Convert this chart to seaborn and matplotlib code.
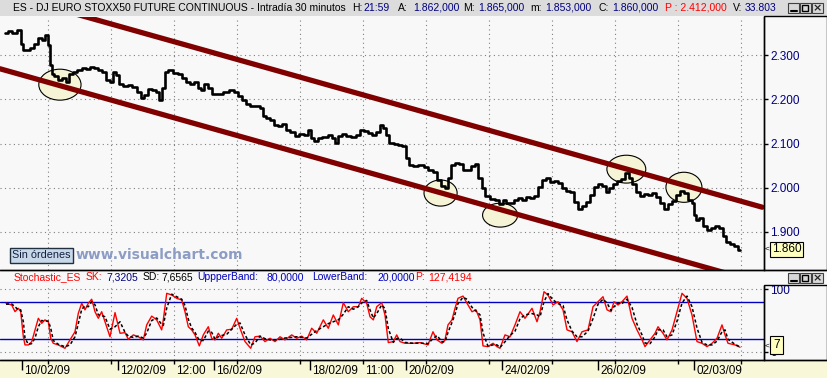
import numpy as np
import pandas as pd
import matplotlib
matplotlib.use("Agg")
import matplotlib.pyplot as plt
from matplotlib.patches import Ellipse, Rectangle
from matplotlib.lines import Line2D
import seaborn as sns

# ---- price (30 min bars, x = trading day, 10/02/09 = 1) ----
price_day = [
    0.646, 0.750, 0.854, 0.958, 1.000, 1.042, 1.125, 1.208, 1.292, 1.375,
    1.458, 1.521, 1.562, 1.604, 1.646, 1.708, 1.792, 1.875, 1.958, 2.021,
    2.104, 2.188, 2.292, 2.375, 2.458, 2.542, 2.625, 2.708, 2.792, 2.854,
    2.917, 2.979, 3.042, 3.146, 3.250, 3.354, 3.458, 3.521, 3.583, 3.667,
    3.750, 3.833, 3.896, 3.958, 4.021, 4.083, 4.188, 4.292, 4.375, 4.458,
    4.542, 4.625, 4.708, 4.771, 4.833, 4.917, 5.000, 5.125, 5.250, 5.375,
    5.458, 5.542, 5.625, 5.708, 5.812, 5.917, 6.000, 6.042, 6.125, 6.208,
    6.292, 6.375, 6.458, 6.521, 6.625, 6.729, 6.833, 6.917, 6.979, 7.042,
    7.125, 7.208, 7.312, 7.417, 7.500, 7.562, 7.625, 7.708, 7.792, 7.896,
    8.000, 8.083, 8.167, 8.250, 8.333, 8.417, 8.479, 8.542, 8.604, 8.688,
    8.792, 8.875, 8.958, 9.021, 9.104, 9.208, 9.312, 9.417, 9.500, 9.604,
    9.688, 9.771, 9.833, 9.896, 9.979, 10.062, 10.146, 10.229, 10.312, 10.396,
    10.458, 10.542, 10.604, 10.688, 10.792, 10.896, 10.979, 11.062, 11.125, 11.208,
    11.292, 11.375, 11.458, 11.542, 11.625, 11.708, 11.792, 11.875, 11.958, 12.042,
    12.125, 12.208, 12.292, 12.375, 12.458, 12.542, 12.625, 12.708, 12.792, 12.875,
    12.958, 13.042, 13.125, 13.188, 13.271, 13.354, 13.438, 13.521, 13.604, 13.667,
    13.750, 13.833, 13.917, 14.000, 14.083, 14.167, 14.250, 14.333, 14.417, 14.500,
    14.583, 14.667, 14.750, 14.833, 14.917, 14.979, 15.000, 15.062, 15.146, 15.229,
    15.312, 15.396, 15.479, 15.562, 15.625, 15.708, 15.792, 15.875, 15.958,
]
price_close = [
    2.350, 2.354, 2.350, 2.357, 2.325, 2.311, 2.311, 2.316, 2.325, 2.338,
    2.334, 2.345, 2.323, 2.277, 2.257, 2.252, 2.243, 2.248, 2.239, 2.257,
    2.262, 2.266, 2.271, 2.268, 2.273, 2.271, 2.266, 2.262, 2.243, 2.239,
    2.262, 2.255, 2.234, 2.230, 2.232, 2.228, 2.216, 2.203, 2.210, 2.223,
    2.221, 2.216, 2.198, 2.225, 2.262, 2.266, 2.260, 2.257, 2.248, 2.239,
    2.234, 2.239, 2.225, 2.221, 2.234, 2.225, 2.212, 2.212, 2.216, 2.221,
    2.216, 2.207, 2.198, 2.189, 2.185, 2.185, 2.180, 2.162, 2.157, 2.153,
    2.142, 2.139, 2.144, 2.130, 2.126, 2.117, 2.121, 2.119, 2.130, 2.112,
    2.105, 2.112, 2.114, 2.119, 2.112, 2.101, 2.117, 2.121, 2.117, 2.114,
    2.119, 2.130, 2.128, 2.123, 2.119, 2.126, 2.142, 2.135, 2.119, 2.101,
    2.098, 2.096, 2.094, 2.067, 2.051, 2.049, 2.051, 2.047, 2.040, 2.035,
    2.017, 2.004, 1.999, 2.022, 2.051, 2.056, 2.053, 2.040, 2.040, 2.049,
    2.053, 2.022, 1.999, 1.981, 1.974, 1.972, 1.963, 1.972, 1.965, 1.965,
    1.972, 1.977, 1.972, 1.979, 1.977, 1.981, 2.001, 2.017, 2.022, 2.013,
    2.015, 2.011, 1.999, 1.992, 1.990, 1.967, 1.953, 1.958, 1.967, 1.983,
    2.001, 2.008, 2.004, 1.990, 1.999, 2.008, 2.015, 2.019, 2.033, 2.022,
    2.008, 1.990, 1.981, 1.986, 1.983, 1.988, 1.979, 1.965, 1.952, 1.963,
    1.970, 1.983, 1.992, 1.988, 1.972, 1.965, 1.938, 1.926, 1.931, 1.913,
    1.904, 1.908, 1.913, 1.908, 1.890, 1.877, 1.872, 1.868, 1.860,
]

# bearish channel drawn on the chart
channel_day = [0.54, 16.42]
channel_upper = [2.441, 1.956]
channel_lower = [2.269, 1.784]

# highlighted touches: centre day, centre price, width (days), height (price)
zone_day = [1.79, 9.72, 10.96, 13.59, 14.79]
zone_price = [2.233, 1.988, 1.938, 2.042, 2.001]
zone_w = [0.88, 0.69, 0.73, 0.81, 0.75]
zone_h = [0.070, 0.059, 0.054, 0.063, 0.068]

# ---- stochastic ----
stoch_day = [
    0.667, 0.785, 0.854, 0.923, 0.973, 1.028, 1.062, 1.131, 1.202, 1.271,
    1.340, 1.410, 1.479, 1.548, 1.598, 1.652, 1.756, 1.896, 2.000, 2.104,
    2.173, 2.244, 2.312, 2.381, 2.452, 2.521, 2.590, 2.660, 2.729, 2.833,
    2.938, 3.042, 3.146, 3.215, 3.319, 3.423, 3.527, 3.598, 3.702, 3.806,
    3.910, 3.944, 4.015, 4.119, 4.223, 4.327, 4.396, 4.465, 4.535, 4.604,
    4.694, 4.777, 4.881, 4.952, 5.021, 5.090, 5.160, 5.265, 5.369, 5.473,
    5.542, 5.646, 5.765, 5.854, 5.958, 6.062, 6.167, 6.271, 6.375, 6.479,
    6.619, 6.723, 6.827, 6.931, 7.035, 7.140, 7.277, 7.381, 7.485, 7.590,
    7.694, 7.798, 7.902, 8.006, 8.077, 8.181, 8.250, 8.319, 8.390, 8.494,
    8.562, 8.631, 8.735, 8.806, 8.875, 8.979, 9.152, 9.292, 9.458, 9.562,
    9.646, 9.750, 9.812, 9.875, 9.958, 10.021, 10.083, 10.188, 10.271, 10.375,
    10.458, 10.542, 10.604, 10.708, 10.812, 10.896, 10.958, 11.062, 11.167, 11.271,
    11.375, 11.479, 11.625, 11.729, 11.792, 11.875, 11.958, 12.062, 12.167, 12.271,
    12.354, 12.458, 12.562, 12.667, 12.792, 12.896, 13.000, 13.104, 13.188, 13.271,
    13.333, 13.417, 13.500, 13.604, 13.708, 13.812, 13.917, 13.979, 14.083, 14.188,
    14.250, 14.354, 14.438, 14.542, 14.646, 14.750, 14.854, 14.958, 15.062, 15.167,
    15.271, 15.375, 15.479, 15.583, 15.646, 15.708, 15.854, 15.958,
]
stoch_sk = [
    77.5, 74.8, 64.2, 69.5, 64, 24, 11, 11, 16, 35,
    53.5, 45.5, 51, 48, 21.6, 13.6, 11, 5.6, 19, 32,
    61.5, 77.5, 67, 77.5, 84, 64, 53.5, 64, 48, 24,
    62.6, 29.6, 30.6, 20, 27, 24, 19, 43, 57, 51,
    35, 51, 93.4, 90.8, 85.4, 82.8, 64, 40, 35, 27,
    9.4, 27, 40, 21.6, 19, 29.6, 21.6, 35, 36, 53.5,
    37.6, 16.3, 5.6, 24, 25, 16.3, 21.6, 16.3, 24, 19,
    27, 21.6, 25, 19, 37.6, 29.6, 51, 37.6, 58.8, 43,
    78.5, 64, 72, 72, 85.4, 77.5, 56, 51, 72, 78.5,
    58.8, 14.7, 16.3, 27, 16.3, 13.6, 13.6, 14.7, 11, 32,
    19, 13.6, 19, 43, 51, 69.5, 85.4, 89, 77.5, 64,
    67, 51, 9.4, 8.3, 13.6, 8.3, 5.6, 27, 24, 43,
    64, 53.5, 69.5, 48, 64, 96, 90.8, 74.8, 80, 67,
    35, 32, 16.3, 32, 35, 72, 80, 88, 67, 64,
    80, 74.8, 80, 89, 53.5, 35, 19, 8.3, 19, 29.6,
    40, 29.6, 19, 35, 64, 93.4, 85.4, 58.8, 16.3, 13.6,
    8.3, 13.6, 21.6, 43, 27, 13.6, 11, 7.3,
]
stoch_sd = [
    76, 76.5, 72, 67, 67, 48, 22, 12, 13, 22,
    40, 50, 49, 49, 38, 18, 12, 8, 11, 24,
    45, 68, 73, 72, 80, 75, 59, 58, 56, 36,
    40, 48, 31, 25, 23, 25, 22, 30, 50, 54,
    44, 42, 70, 92, 88, 84, 74, 52, 38, 31,
    18, 18, 33, 31, 20, 24, 26, 28, 36, 44,
    46, 27, 11, 14, 25, 21, 19, 19, 20, 22,
    23, 24, 23, 22, 28, 34, 40, 45, 48, 51,
    60, 72, 68, 72, 78, 82, 67, 54, 61, 75,
    69, 37, 15, 21, 22, 15, 13.6, 14, 13, 21,
    26, 16, 16, 31, 47, 60, 77, 87, 84, 71,
    65, 59, 30, 9, 11, 11, 7, 16, 26, 33,
    53, 59, 61, 59, 56, 80, 93, 83, 77, 74,
    51, 33, 24, 24, 33, 53, 76, 84, 78, 66,
    72, 78, 77, 84, 71, 44, 27, 14, 13, 24,
    35, 35, 24, 27, 49, 78, 89, 72, 38, 15,
    11, 11, 17, 32, 35, 20, 12, 7.7,
]
upper_band, lower_band = 80, 20

price_ticks = [1.9, 2.0, 2.1, 2.2, 2.3]
date_ticks = [1, 3, 5, 7, 9, 11, 13, 15]
date_labels = ["10/02/09", "12/02/09", "16/02/09", "18/02/09",
               "20/02/09", "24/02/09", "26/02/09", "02/03/09"]
time_ticks = [4.167, 8.104]
time_labels = ["12:00", "11:00"]
grid_days = np.arange(1.542, 16.2, 1.3125)

W, H = 828, 378
DARKRED = "#800000"
NAVY = "#000080"
PANEL = "#f8f8f8"
CREAM = "#f8f8d8"
DOTS = dict(color="#808080", linestyle=(0, (1, 3)), lw=0.8)

sns.set_theme(style="white")
plt.rcParams["font.family"] = ["Liberation Sans", "DejaVu Sans"]

fig = plt.figure(figsize=(W / 100, H / 100), dpi=100, facecolor=PANEL)


def rect(x0, y0, x1, y1):
    return [x0 / W, 1 - y1 / H, (x1 - x0) / W, (y1 - y0) / H]


def fbox(x0, y0, x1, y1, **kw):
    fig.add_artist(Rectangle((x0 / W, 1 - y1 / H), (x1 - x0) / W, (y1 - y0) / H,
                             transform=fig.transFigure, **kw))


def fline(x0, y0, x1, y1, **kw):
    fig.add_artist(Line2D([x0 / W, x1 / W], [1 - y0 / H, 1 - y1 / H],
                          transform=fig.transFigure, **kw))


def ftext(x, y, s, **kw):
    kw.setdefault("va", "center")
    kw.setdefault("ha", "left")
    return fig.text(x / W, 1 - y / H, s, **kw)


def buttons(y):
    for x0 in (788, 800, 812):
        fbox(x0, y - 5, x0 + 11, y + 5, facecolor="#d8d8d8", edgecolor="#404040", lw=0.8)
    fline(791, y + 2.5, 797, y + 2.5, color="black", lw=1.5)
    fbox(802.5, y - 3, 808.5, y + 3, facecolor="none", edgecolor="black", lw=1)
    ftext(817.5, y + 0.5, "×", fontsize=8, fontweight="bold", ha="center", family="DejaVu Sans")


# window chrome
fbox(0, 0, 828, 16, facecolor="#dcdcdc", edgecolor="none", zorder=0)
fbox(0, 360, 828, 378, facecolor=CREAM, edgecolor="none", zorder=0)

# ---- price panel ----
ax = fig.add_axes(rect(0, 17, 764, 270))
ax.set_facecolor(PANEL)
for d, p, w, h in zip(zone_day, zone_price, zone_w, zone_h):
    ax.add_patch(Ellipse((d, p), w, h, facecolor="#f6f4d6", edgecolor="black", lw=0.8, zorder=2))

df_chan = pd.DataFrame({"day": channel_day * 2,
                        "price": channel_upper + channel_lower,
                        "line": ["upper", "upper", "lower", "lower"]})
sns.lineplot(data=df_chan, x="day", y="price", units="line", estimator=None,
             color=DARKRED, lw=3.8, ax=ax, zorder=3)
df_price = pd.DataFrame({"day": price_day, "close": price_close})
sns.lineplot(data=df_price, x="day", y="close", estimator=None, sort=False,
             color="black", lw=1.9, drawstyle="steps-mid", ax=ax, zorder=4)

ax.set_xlim(0.5417, 16.458)
ax.set_ylim(1.814, 2.386)
ax.yaxis.tick_right()
ax.set_yticks(price_ticks)
ax.set_yticklabels([f"{v:.3f}" for v in price_ticks])
ax.set_xticks(grid_days)
ax.tick_params(axis="x", length=0, labelbottom=False)
ax.tick_params(axis="y", direction="out", length=3, width=1, color="black",
               labelcolor=NAVY, labelsize=8.5, pad=1.5, right=True)
ax.grid(True, **DOTS)
ax.set_xlabel("")
ax.set_ylabel("")
for s in ["top", "left"]:
    ax.spines[s].set_visible(False)
for s in ["right", "bottom"]:
    ax.spines[s].set_color("black")
    ax.spines[s].set_linewidth(1)

# ---- stochastic panel ----
ax2 = fig.add_axes(rect(0, 286, 764, 360))
ax2.set_facecolor(PANEL)
ax2.axhline(upper_band, color="#0000c0", lw=1, zorder=1.5)
ax2.axhline(lower_band, color="#0000c0", lw=1, zorder=1.5)
df_st = pd.DataFrame({"day": stoch_day, "SK": stoch_sk, "SD": stoch_sd})
sns.lineplot(data=df_st, x="day", y="SK", estimator=None, color="#ff0000", lw=1.0, ax=ax2, zorder=3)
sns.lineplot(data=df_st, x="day", y="SD", estimator=None, color="black", lw=1.1,
             linestyle=(0, (2, 1.5)), ax=ax2, zorder=4)

ax2.set_xlim(0.5417, 16.458)
ax2.set_ylim(-13.1, 105.1)
ax2.yaxis.tick_right()
ax2.set_yticks([0, 100])
ax2.set_yticklabels(["0", "100"])
ax2.tick_params(axis="y", direction="out", length=3, width=1, color="black",
                labelcolor=NAVY, labelsize=8.5, pad=1.5, right=True)
ax2.set_xticks(date_ticks)
ax2.set_xticks(grid_days, minor=True)
ax2.tick_params(axis="x", which="major", direction="out", length=7, width=1,
                color="black", labelbottom=False, bottom=True)
ax2.tick_params(axis="x", which="minor", direction="out", length=3, width=1,
                color="black", labelbottom=False, bottom=True)
ax2.grid(True, which="minor", axis="x", **DOTS)
ax2.grid(True, which="major", axis="y", **DOTS)
ax2.grid(False, which="major", axis="x")
ax2.set_xlabel("")
ax2.set_ylabel("")
for s in ["top", "left"]:
    ax2.spines[s].set_visible(False)
for s in ["right", "bottom"]:
    ax2.spines[s].set_color("black")
    ax2.spines[s].set_linewidth(1)

for d, lab in zip(date_ticks + time_ticks, date_labels + time_labels):
    ax2.annotate(lab, xy=(d, 0), xycoords=("data", "axes fraction"),
                 xytext=(1.5, -3.5), textcoords="offset points",
                 ha="left", va="top", fontsize=8.5, color="black",
                 annotation_clip=False)

# panel frames and separators
fline(0, 270, 828, 270, color="black", lw=1)
fline(0, 360, 828, 360, color="black", lw=1)
fbox(764, 16, 827, 270, facecolor="none", edgecolor="black", lw=1)
fbox(764, 285, 827, 360, facecolor="none", edgecolor="black", lw=1)

# title bar
TFS = 7.5
title_parts = [
    (13, "ES - DJ EURO STOXX50 FUTURE CONTINUOUS - Intradía 30 minutos", "black"),
    (352, "H:", "black"), (363, "21:59", NAVY),
    (398, "A:", "black"), (413, "1.862,000", NAVY),
    (463, "M:", "black"), (478, "1.865,000", NAVY),
    (530, "m:", "black"), (545, "1.853,000", NAVY),
    (599, "C:", "black"), (612, "1.860,000", NAVY),
    (665, "P : 2.412,000", "#ff0000"),
    (733, "V:", "black"), (745, "33.803", NAVY),
]
for x, s, c in title_parts:
    ftext(x, 8, s, fontsize=TFS, color=c)
buttons(8)

# stochastic header
stoch_parts = [
    (14, "Stochastic_ES", "#ff0000"), (86, "SK:", "#ff0000"), (106, "7,3205", NAVY),
    (143, "SD:", "black"), (161, "7,6565", "black"),
    (197, "UppperBand:", "#0000c0"), (267, "80,0000", "#0000c0"),
    (312, "LowerBand:", "#0000c0"), (377, "20,0000", "#0000c0"),
    (415, "P:", "#ff0000"), (428, "127,4194", "#ff0000"),
]
for x, s, c in stoch_parts:
    ftext(x, 277, s, fontsize=TFS, color=c)
buttons(278)

# last-value markers
ftext(765, 249.5, "<", fontsize=6, color="black")
ftext(772, 249.5, "1.860", fontsize=8.5, color="black",
      bbox=dict(boxstyle="square,pad=0.15", fc="#ffffc0", ec="black", lw=0.8))
ftext(765, 346, "<", fontsize=6, color="black")
ftext(773, 345, "7", fontsize=8.5, color="black", zorder=5,
      bbox=dict(boxstyle="square,pad=0.25", fc="#ffffc0", ec="black", lw=0.8))

# order button and watermark
ftext(12, 255.5, "Sin órdenes", fontsize=7.8, color="#102040",
      bbox=dict(boxstyle="square,pad=0.2", fc="#c8d8e8", ec="#203040", lw=1))
ftext(76, 255, "www.visualchart.com", fontsize=10, fontweight="bold",
      family="DejaVu Sans", color="#8c9cc4")

fig.savefig("out.png", dpi=100, facecolor=fig.get_facecolor())
